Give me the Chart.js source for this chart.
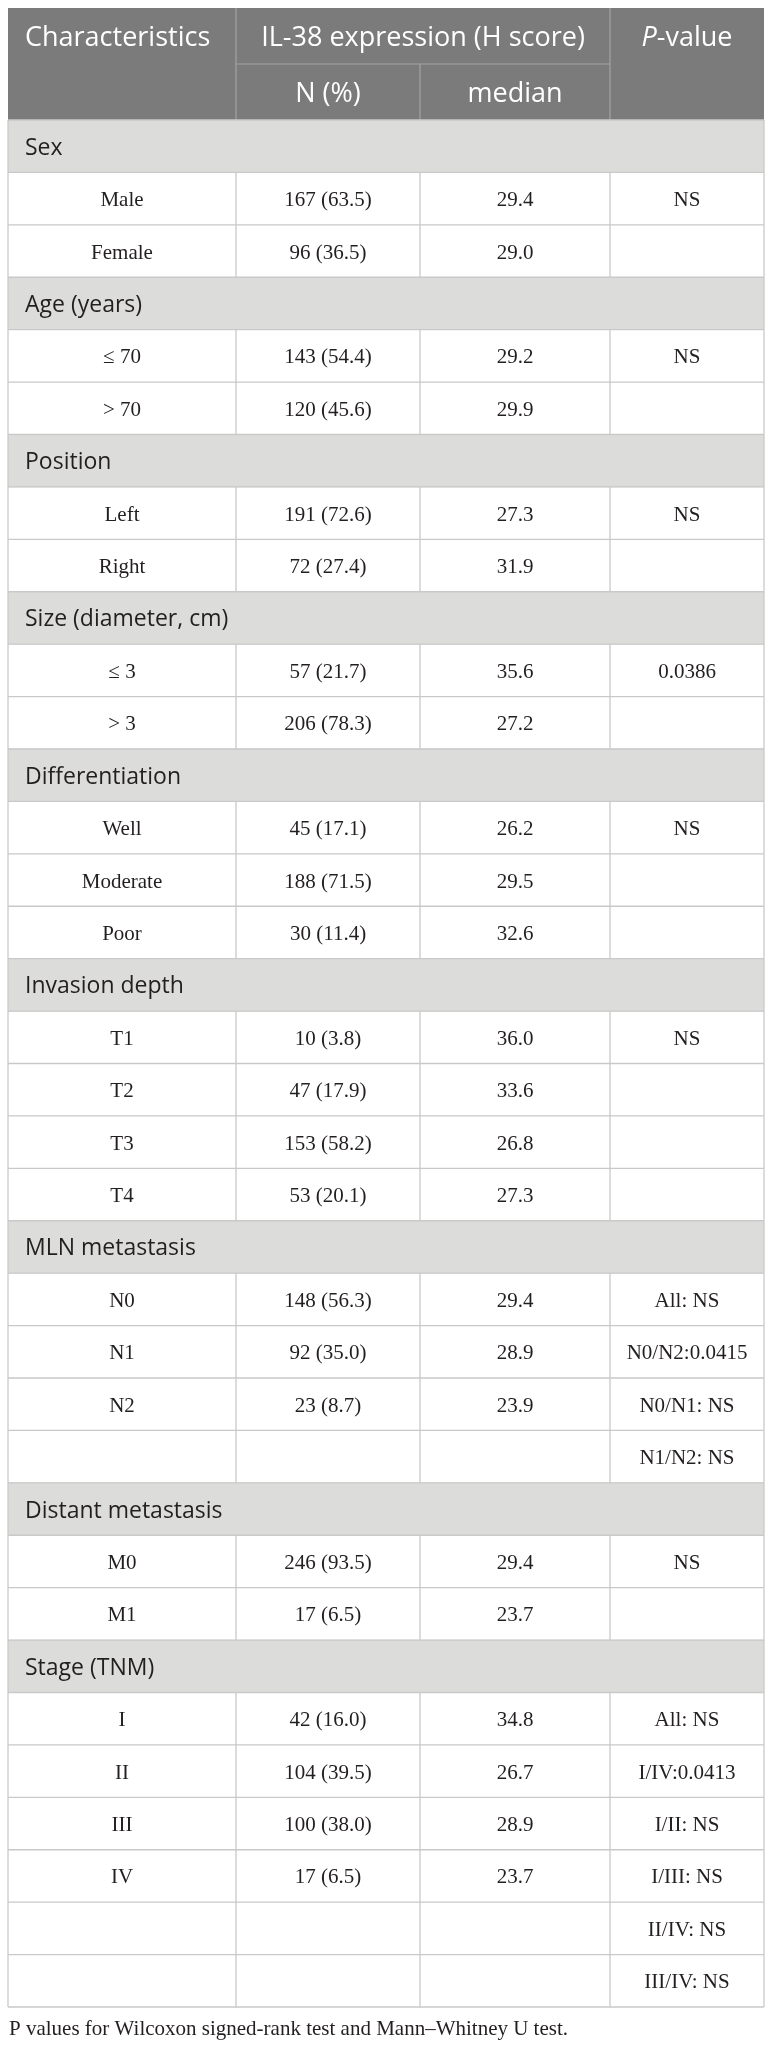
<!DOCTYPE html>
<html>
<head>
<meta charset="utf-8">
<script src="https://cdn.jsdelivr.net/npm/chart.js@4.4.1/dist/chart.umd.min.js"></script>
<style>
  html, body { margin: 0; padding: 0; background: #ffffff; }
  canvas { display: block; }
</style>
</head>
<body>
<canvas id="tbl" width="772" height="2047"></canvas>
<script>
// ---------------- DATA ----------------
const rowLabels = [
  'Sex', 'Male', 'Female',
  'Age (years)', '\u2264 70', '> 70',
  'Position', 'Left', 'Right',
  'Size (diameter, cm)', '\u2264 3', '> 3',
  'Differentiation', 'Well', 'Moderate', 'Poor',
  'Invasion depth', 'T1', 'T2', 'T3', 'T4',
  'MLN metastasis', 'N0', 'N1', 'N2', '',
  'Distant metastasis', 'M0', 'M1',
  'Stage (TNM)', 'I', 'II', 'III', 'IV', '', ''
];
const sectionFlags = [
  1, 0, 0,
  1, 0, 0,
  1, 0, 0,
  1, 0, 0,
  1, 0, 0, 0,
  1, 0, 0, 0, 0,
  1, 0, 0, 0, 0,
  1, 0, 0,
  1, 0, 0, 0, 0, 0, 0
];
const nCounts = [
  null, 167, 96,
  null, 143, 120,
  null, 191, 72,
  null, 57, 206,
  null, 45, 188, 30,
  null, 10, 47, 153, 53,
  null, 148, 92, 23, null,
  null, 246, 17,
  null, 42, 104, 100, 17, null, null
];
const nPercents = [
  null, 63.5, 36.5,
  null, 54.4, 45.6,
  null, 72.6, 27.4,
  null, 21.7, 78.3,
  null, 17.1, 71.5, 11.4,
  null, 3.8, 17.9, 58.2, 20.1,
  null, 56.3, 35.0, 8.7, null,
  null, 93.5, 6.5,
  null, 16.0, 39.5, 38.0, 6.5, null, null
];
const medians = [
  null, 29.4, 29.0,
  null, 29.2, 29.9,
  null, 27.3, 31.9,
  null, 35.6, 27.2,
  null, 26.2, 29.5, 32.6,
  null, 36.0, 33.6, 26.8, 27.3,
  null, 29.4, 28.9, 23.9, null,
  null, 29.4, 23.7,
  null, 34.8, 26.7, 28.9, 23.7, null, null
];
const pValues = [
  '', 'NS', '',
  '', 'NS', '',
  '', 'NS', '',
  '', '0.0386', '',
  '', 'NS', '', '',
  '', 'NS', '', '', '',
  '', 'All: NS', 'N0/N2:0.0415', 'N0/N1: NS', 'N1/N2: NS',
  '', 'NS', '',
  '', 'All: NS', 'I/IV:0.0413', 'I/II: NS', 'I/III: NS', 'II/IV: NS', 'III/IV: NS'
];
const headerTop = ['Characteristics', 'IL-38 expression (H score)', 'P', '-value'];
const headerSub = ['N (%)', 'median'];
const footnote = 'P values for Wilcoxon signed-rank test and Mann\u2013Whitney U test.';

// ---------------- LAYOUT / STYLE ----------------
const LAYOUT = {
  colEdges: [0, 0.3016, 0.545, 0.7963, 1],   // fractions of table width
  headTopY: 8,
  headSplitY: 64,
  labelIndent: 17,
  footY: 2035,
  footX: 9
};
const STYLE = {
  headBg: '#7b7b7b',
  headLine: '#a4a4a4',
  headText: '#ffffff',
  sectionBg: '#dcdcdb',
  line: '#c9c9c9',
  text: '#231f20',
  sans: '"Open Sans", "Noto Sans", sans-serif',
  serif: '"Liberation Serif", "DejaVu Serif", serif'
};

function fmtN(i) {
  return nCounts[i] == null ? '' : nCounts[i] + ' (' + nPercents[i].toFixed(1) + ')';
}
function fmtMed(i) {
  return medians[i] == null ? '' : medians[i].toFixed(1);
}

const tablePlugin = {
  id: 'tablePlugin',
  afterDatasetsDraw(chart) {
    const ctx = chart.ctx;
    const x = chart.scales.x, y = chart.scales.y;
    const L = x.getPixelForValue(0), R = x.getPixelForValue(1);
    const colX = LAYOUT.colEdges.map(v => x.getPixelForValue(v));
    const band = y.getPixelForValue(1) - y.getPixelForValue(0);
    const bodyTop = y.getPixelForValue(0) - band / 2;
    const hTop = LAYOUT.headTopY, hSplit = LAYOUT.headSplitY;

    function line(x1, y1, x2, y2) {
      ctx.beginPath(); ctx.moveTo(x1, y1); ctx.lineTo(x2, y2); ctx.stroke();
    }
    ctx.save();

    // ----- header -----
    ctx.fillStyle = STYLE.headBg;
    ctx.fillRect(L, hTop, R - L, bodyTop - hTop);
    ctx.strokeStyle = STYLE.headLine;
    ctx.lineWidth = 1.2;
    line(colX[1], hTop, colX[1], bodyTop);
    line(colX[3], hTop, colX[3], bodyTop);
    line(colX[2], hSplit, colX[2], bodyTop);
    line(colX[1], hSplit, colX[3], hSplit);

    ctx.fillStyle = STYLE.headText;
    ctx.textBaseline = 'alphabetic';
    ctx.font = '27px ' + STYLE.sans;
    const r1 = (hTop + hSplit) / 2 + 10;
    const r2 = (hSplit + bodyTop) / 2 + 10;
    ctx.textAlign = 'left';
    ctx.fillText(headerTop[0], L + LAYOUT.labelIndent, r1);
    ctx.textAlign = 'center';
    ctx.fillText(headerTop[1], (colX[1] + colX[3]) / 2, r1);
    ctx.fillText(headerSub[0], (colX[1] + colX[2]) / 2, r2);
    ctx.fillText(headerSub[1], (colX[2] + colX[3]) / 2, r2);
    // P-value with italic P
    ctx.textAlign = 'left';
    ctx.font = 'italic 27px ' + STYLE.sans;
    const wP = ctx.measureText(headerTop[2]).width;
    ctx.font = '27px ' + STYLE.sans;
    const wV = ctx.measureText(headerTop[3]).width;
    const pStart = (colX[3] + colX[4]) / 2 - (wP + wV) / 2;
    ctx.font = 'italic 27px ' + STYLE.sans;
    ctx.fillText(headerTop[2], pStart, r1);
    ctx.font = '27px ' + STYLE.sans;
    ctx.fillText(headerTop[3], pStart + wP, r1);

    // ----- body grid -----
    ctx.strokeStyle = STYLE.line;
    ctx.lineWidth = 1.3;
    line(L, bodyTop, R, bodyTop);
    for (let i = 0; i < rowLabels.length; i++) {
      const yc = y.getPixelForValue(i);
      const t = yc - band / 2, b = yc + band / 2;
      line(L, b, R, b);
      const edges = sectionFlags[i] ? [colX[0], colX[4]] : colX;
      edges.forEach(ex => line(ex, t, ex, b));
    }

    // ----- body text -----
    ctx.fillStyle = STYLE.text;
    for (let i = 0; i < rowLabels.length; i++) {
      const yc = y.getPixelForValue(i);
      if (sectionFlags[i]) {
        ctx.font = '23px ' + STYLE.sans;
        ctx.textAlign = 'left';
        ctx.fillText(rowLabels[i], L + LAYOUT.labelIndent, yc + 8.5);
      } else {
        ctx.font = '21px ' + STYLE.serif;
        ctx.textAlign = 'center';
        const by = yc + 7.5;
        const cells = [rowLabels[i], fmtN(i), fmtMed(i), pValues[i]];
        cells.forEach((txt, c) => {
          if (txt) ctx.fillText(txt, (colX[c] + colX[c + 1]) / 2, by);
        });
      }
    }

    // ----- footnote -----
    ctx.font = '21px ' + STYLE.serif;
    ctx.textAlign = 'left';
    ctx.fillText(footnote, LAYOUT.footX, LAYOUT.footY);
    ctx.restore();
  }
};

new Chart(document.getElementById('tbl').getContext('2d'), {
  type: 'bar',
  data: {
    labels: rowLabels,
    datasets: [{
      data: sectionFlags.map(f => f ? 1 : null),
      backgroundColor: STYLE.sectionBg,
      borderWidth: 0,
      barPercentage: 1,
      categoryPercentage: 1
    }]
  },
  options: {
    indexAxis: 'y',
    responsive: false,
    animation: false,
    events: [],
    layout: { padding: { top: 120, left: 8, right: 8, bottom: 40 } },
    scales: {
      x: { type: 'linear', min: 0, max: 1, display: false },
      y: { type: 'category', display: false, offset: true }
    },
    plugins: { legend: { display: false }, tooltip: { enabled: false } }
  },
  plugins: [tablePlugin]
});
</script>
</body>
</html>
